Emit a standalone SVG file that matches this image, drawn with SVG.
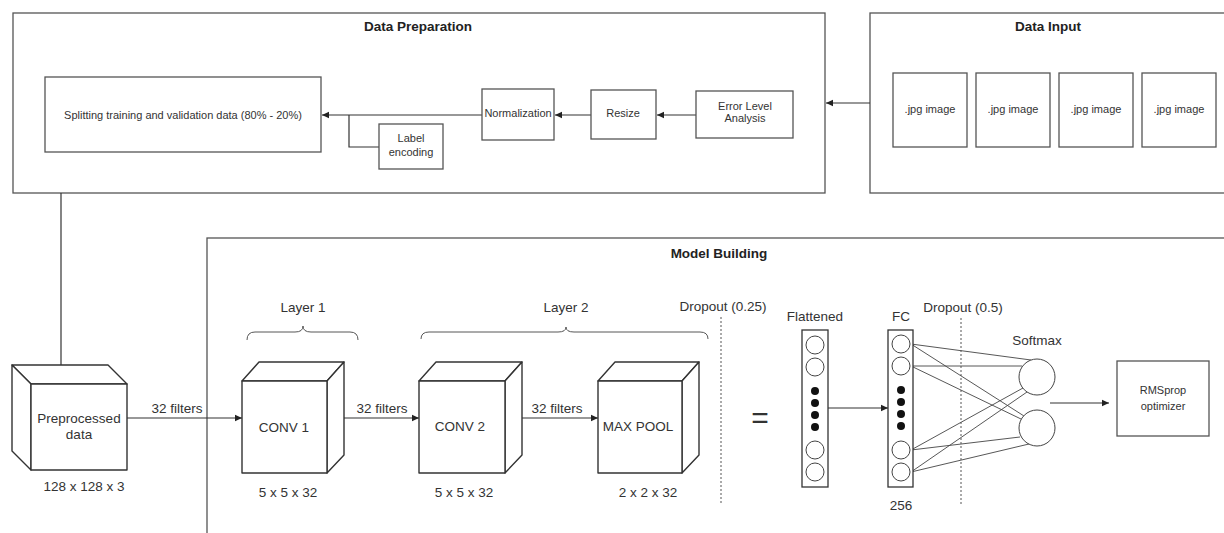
<svg xmlns="http://www.w3.org/2000/svg" width="1224" height="533" viewBox="0 0 1224 533">
<style>
text{font-family:"Liberation Sans",Arial,sans-serif;fill:#333;text-anchor:middle}
.title{font-weight:bold;font-size:13.5px;fill:#222}
.s11{font-size:11px}
.s13{font-size:13.5px}
.box{fill:#fff;stroke:#555;stroke-width:1.3}
.cont{fill:#fff;stroke:#555;stroke-width:1.3}
.cube{fill:#fff;stroke:#333;stroke-width:1.4;stroke-linejoin:round}
.ln{fill:none;stroke:#333;stroke-width:1.2}
.thin{fill:none;stroke:#444;stroke-width:0.9}
.dot{fill:none;stroke:#555;stroke-width:1;stroke-dasharray:2,2}
.neu{fill:#fff;stroke:#444;stroke-width:1}
.blk{fill:#111}
</style>
<defs>
<marker id="arr" markerWidth="8" markerHeight="8" refX="7" refY="4" orient="auto" markerUnits="userSpaceOnUse">
<path d="M0,0.8 L7,4 L0,7.2 Z" fill="#222"/>
</marker>
</defs>
<rect width="1224" height="533" fill="#fff"/>

<g id="data-preparation">
<rect class="cont" x="13" y="13" width="812" height="180"/>
<text class="title" x="418" y="31">Data Preparation</text>
</g>
<g id="data-input">
<rect class="cont" x="870" y="13" width="370" height="180"/>
<text class="title" x="1048" y="31">Data Input</text>
</g>
<g id="model-building">
<rect class="cont" x="207" y="238" width="1030" height="310"/>
<text class="title" x="719" y="258">Model Building</text>
</g>

<g id="connectors">
<line class="ln" x1="870" y1="103" x2="826" y2="103" marker-end="url(#arr)"/>
<line class="ln" x1="696" y1="115" x2="657" y2="115" marker-end="url(#arr)"/>
<line class="ln" x1="591" y1="115" x2="555" y2="115" marker-end="url(#arr)"/>
<line class="ln" x1="482" y1="115" x2="322" y2="115" marker-end="url(#arr)"/>
<polyline class="ln" points="379,147 349,147 349,115"/>
<line class="ln" x1="61" y1="193" x2="61" y2="365"/>
<line class="ln" x1="127" y1="418" x2="242" y2="418" marker-end="url(#arr)"/>
<line class="ln" x1="327" y1="418" x2="419" y2="418" marker-end="url(#arr)"/>
<line class="ln" x1="504" y1="418" x2="598" y2="418" marker-end="url(#arr)"/>
<line class="ln" x1="828" y1="408" x2="888" y2="408" marker-end="url(#arr)"/>
<line class="ln" x1="1050" y1="403" x2="1109" y2="403" marker-end="url(#arr)"/>
<line class="thin" x1="911" y1="344" x2="1031" y2="360"/>
<line class="thin" x1="911" y1="344" x2="1024" y2="416"/>
<line class="thin" x1="911" y1="366" x2="1022" y2="366"/>
<line class="thin" x1="911" y1="366" x2="1021" y2="419"/>
<line class="thin" x1="911" y1="450" x2="1023" y2="388"/>
<line class="thin" x1="911" y1="450" x2="1020" y2="437"/>
<line class="thin" x1="911" y1="472" x2="1027" y2="392"/>
<line class="thin" x1="911" y1="472" x2="1029" y2="444"/>
<line class="dot" x1="721" y1="317" x2="721" y2="503"/>
<line class="dot" x1="961" y1="318" x2="961" y2="505"/>
</g>

<g id="splitting">
<rect class="box" x="45" y="77" width="276" height="75"/>
<text class="s11" x="183" y="119">Splitting training and validation data (80% - 20%)</text>
</g>
<g id="label-encoding">
<rect class="box" x="379" y="124" width="64" height="45"/>
<text class="s11" x="411" y="142">Label</text>
<text class="s11" x="411" y="156">encoding</text>
</g>
<g id="normalization">
<rect class="box" x="482" y="89" width="72" height="51"/>
<text class="s11" x="518" y="117">Normalization</text>
</g>
<g id="resize">
<rect class="box" x="591" y="90" width="65" height="49"/>
<text class="s11" x="623" y="117">Resize</text>
</g>
<g id="ela">
<rect class="box" x="696" y="91" width="97" height="47"/>
<text class="s11" x="745" y="110">Error Level</text>
<text class="s11" x="745" y="122">Analysis</text>
</g>

<g id="img1"><rect class="box" x="893" y="73" width="74" height="74"/><text class="s11" x="930" y="113">.jpg image</text></g>
<g id="img2"><rect class="box" x="976" y="73" width="74" height="74"/><text class="s11" x="1013" y="113">.jpg image</text></g>
<g id="img3"><rect class="box" x="1059" y="73" width="74" height="74"/><text class="s11" x="1096" y="113">.jpg image</text></g>
<g id="img4"><rect class="box" x="1142" y="73" width="74" height="74"/><text class="s11" x="1179" y="113">.jpg image</text></g>

<g id="preprocessed">
<polygon class="cube" points="12,365 108,365 127,384 31,384"/>
<polygon class="cube" points="12,365 31,384 31,470 12,451"/>
<rect class="cube" x="31" y="384" width="96" height="86"/>
<text class="s13" x="79" y="423">Preprocessed</text>
<text class="s13" x="79" y="439">data</text>
<text class="s13" x="84" y="491">128 x 128 x 3</text>
</g>
<text class="s13" x="177" y="413">32 filters</text>

<g id="conv1">
<polygon class="cube" points="242,381 259,362 344,362 327,381"/>
<polygon class="cube" points="327,381 344,362 344,455 327,473"/>
<rect class="cube" x="242" y="381" width="85" height="92"/>
<text class="s13" x="284" y="432">CONV 1</text>
<text class="s13" x="288" y="497">5 x 5 x 32</text>
</g>
<g id="layer1">
<path class="thin" d="M247,340 Q247,332 255,332 L295,332 Q303,332 303,326 Q303,332 311,332 L350,332 Q358,332 358,340"/>
<text class="s13" x="303" y="312">Layer 1</text>
</g>
<text class="s13" x="382" y="413">32 filters</text>

<g id="conv2">
<polygon class="cube" points="419,381 436,362 522,362 505,381"/>
<polygon class="cube" points="505,381 522,362 522,455 505,473"/>
<rect class="cube" x="419" y="381" width="86" height="92"/>
<text class="s13" x="460" y="431">CONV 2</text>
<text class="s13" x="464" y="497">5 x 5 x 32</text>
</g>
<text class="s13" x="557" y="413">32 filters</text>

<g id="maxpool">
<polygon class="cube" points="598,381 615,362 699,362 682,381"/>
<polygon class="cube" points="682,381 699,362 699,455 682,473"/>
<rect class="cube" x="598" y="381" width="84" height="92"/>
<text class="s13" x="638" y="431">MAX POOL</text>
<text class="s13" x="648" y="497">2 x 2 x 32</text>
</g>
<g id="layer2">
<path class="thin" d="M421,339 Q421,332 429,332 L558,332 Q566,332 566,327 Q566,332 574,332 L700,332 Q708,332 708,339"/>
<text class="s13" x="566" y="312">Layer 2</text>
</g>
<text class="s13" x="723" y="311">Dropout (0.25)</text>
<text x="760" y="428" style="font-size:30px">=</text>

<g id="flattened">
<rect class="box" x="802" y="330" width="26" height="157" style="stroke:#333"/>
<circle class="neu" cx="815" cy="345" r="9"/>
<circle class="neu" cx="815" cy="367" r="9"/>
<circle class="blk" cx="815" cy="391" r="4"/>
<circle class="blk" cx="815" cy="403" r="4"/>
<circle class="blk" cx="815" cy="415" r="4"/>
<circle class="blk" cx="815" cy="427" r="4"/>
<circle class="neu" cx="815" cy="450" r="9"/>
<circle class="neu" cx="815" cy="472" r="9"/>
<text class="s13" x="815" y="321">Flattened</text>
</g>
<g id="fc">
<rect class="box" x="888" y="330" width="25" height="157" style="stroke:#333"/>
<circle class="neu" cx="901" cy="344" r="9"/>
<circle class="neu" cx="901" cy="366" r="9"/>
<circle class="blk" cx="901" cy="390" r="4"/>
<circle class="blk" cx="901" cy="402" r="4"/>
<circle class="blk" cx="901" cy="414" r="4"/>
<circle class="blk" cx="901" cy="426" r="4"/>
<circle class="neu" cx="901" cy="450" r="9"/>
<circle class="neu" cx="901" cy="472" r="9"/>
<text class="s13" x="901" y="321">FC</text>
<text class="s13" x="901" y="510">256</text>
</g>
<text class="s13" x="963" y="312">Dropout (0.5)</text>
<g id="softmax">
<circle class="neu" cx="1037" cy="377" r="18"/>
<circle class="neu" cx="1037" cy="428" r="18"/>
<text class="s13" x="1037" y="345">Softmax</text>
</g>
<g id="rmsprop">
<rect class="box" x="1117" y="361" width="92" height="75"/>
<text class="s11" x="1163" y="394">RMSprop</text>
<text class="s11" x="1163" y="410">optimizer</text>
</g>
</svg>
